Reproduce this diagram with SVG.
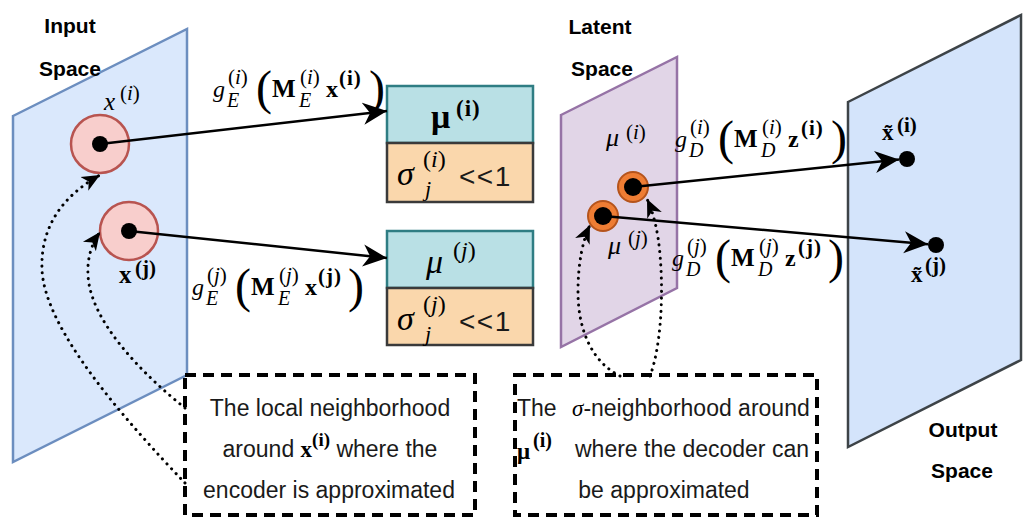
<svg xmlns="http://www.w3.org/2000/svg" width="1034" height="532" viewBox="0 0 1034 532">
<style>
.t{font-family:"Liberation Sans",Arial,sans-serif;fill:#1a1a1a}
.h{font-family:"Liberation Sans",Arial,sans-serif;font-weight:bold;font-size:21px;text-anchor:middle;fill:#000}
.m{font-family:"Liberation Serif","Times New Roman",serif;fill:#000}
.it{font-style:italic}
.b{font-weight:bold}
.dot{fill:#000}
.conn{stroke:#000;stroke-width:2.5;fill:none}
.dotted{stroke:#000;stroke-width:3;fill:none;stroke-dasharray:0.1 6.5;stroke-linecap:round}
.note{fill:#fff;stroke:#000;stroke-width:4;stroke-dasharray:11 7}
.mu{fill:#b9e0e5;stroke:#2f7d83;stroke-width:2.5}
.sg{fill:#fad7ac;stroke:#3a3a3a;stroke-width:2.5}
.pt{fill:#f8cecc;stroke:#b85450;stroke-width:2.5}
.lp{fill:#ee7d34;stroke:#b5541c;stroke-width:2}
.sp{font-size:21px}
.sb{font-size:20px;font-style:italic}
.pr{font-size:48px;font-style:normal;font-weight:normal}
</style>
<defs>
<marker id="arr" viewBox="0 0 26 24" markerWidth="26" markerHeight="24" refX="24" refY="12" orient="auto" markerUnits="userSpaceOnUse">
<path d="M0,1 L24,12 L0,23 L7,12 Z" fill="#000"/>
</marker>
<marker id="arrs" viewBox="0 0 20 18" markerWidth="20" markerHeight="18" refX="18" refY="9" orient="auto" markerUnits="userSpaceOnUse">
<path d="M0,1 L18,9 L0,17 L5,9 Z" fill="#000"/>
</marker>
</defs>

<g id="input-space">
<polygon points="13,116 187,29 187,375 13,462" fill="#dae8fc" stroke="#6c8ebf" stroke-width="2.5"/>
<text class="h" x="70" y="33">Input</text>
<text class="h" x="70" y="76">Space</text>
</g>
<g id="latent-space">
<polygon points="561,115 677,57 677,288 561,347" fill="#e1d5e7" stroke="#9673a6" stroke-width="2.5"/>
<text class="h" x="600" y="34">Latent</text>
<text class="h" x="602" y="76">Space</text>
</g>
<g id="output-space">
<polygon points="848,102 1021,15 1021,360 848,447" fill="#d4e4fb" stroke="#3d4347" stroke-width="2.5"/>
<text class="h" x="963" y="437">Output</text>
<text class="h" x="962" y="478">Space</text>
</g>

<g id="point-xi">
<circle class="pt" cx="100" cy="144" r="29"/>
<circle class="dot" cx="100" cy="144" r="8"/>
<text class="m" font-size="25"><tspan class="it" x="104" y="110">x</tspan><tspan class="sp" x="120" y="100">(<tspan class="it">i</tspan>)</tspan></text>
</g>
<g id="point-xj">
<circle class="pt" cx="129" cy="231" r="29"/>
<circle class="dot" cx="129" cy="231" r="8"/>
<text class="m b" font-size="25"><tspan x="119" y="283">x</tspan><tspan class="sp" x="135" y="275">(j)</tspan></text>
</g>

<g id="box-i">
<rect class="mu" x="387" y="86" width="146" height="57"/>
<rect class="sg" x="387" y="143" width="146" height="59"/>
<text class="m b" font-size="34"><tspan x="431" y="128">μ</tspan><tspan x="456" y="116" font-size="23" letter-spacing="1">(i)</tspan></text>
<text class="m" font-size="34"><tspan class="it" x="397" y="185">σ</tspan><tspan x="423" y="167" font-size="24">(<tspan class="it">i</tspan>)</tspan><tspan class="it" x="425" y="196" font-size="22">j</tspan></text>
<text class="t" x="459" y="186" font-size="28" letter-spacing="1.5" fill="#000">&lt;&lt;1</text>
</g>
<g id="box-j">
<rect class="mu" x="387" y="231" width="146" height="57"/>
<rect class="sg" x="387" y="288" width="146" height="57"/>
<text class="m" font-size="34"><tspan class="it" x="426" y="273">μ</tspan><tspan x="453" y="258" font-size="24">(<tspan class="it">j</tspan>)</tspan></text>
<text class="m" font-size="34"><tspan class="it" x="397" y="330">σ</tspan><tspan x="423" y="312" font-size="24">(<tspan class="it">j</tspan>)</tspan><tspan class="it" x="425" y="341" font-size="22">j</tspan></text>
<text class="t" x="459" y="331" font-size="28" letter-spacing="1.5" fill="#000">&lt;&lt;1</text>
</g>

<g id="latent-mu-i">
<circle class="lp" cx="633" cy="187" r="15"/>
<circle class="dot" cx="633" cy="187" r="9"/>
<text class="m" font-size="26"><tspan class="it" x="606" y="146">μ</tspan><tspan class="sp" x="626" y="139">(<tspan class="it">i</tspan>)</tspan></text>
</g>
<g id="latent-mu-j">
<circle class="lp" cx="603" cy="216" r="15"/>
<circle class="dot" cx="603" cy="216" r="9"/>
<text class="m" font-size="26"><tspan class="it" x="608" y="254">μ</tspan><tspan class="sp" x="628" y="245">(<tspan class="it">j</tspan>)</tspan></text>
</g>

<g id="output-xi">
<circle class="dot" cx="907" cy="159" r="8"/>
<text class="m b" font-size="23"><tspan x="882" y="140">x̃</tspan><tspan class="sp" x="897" y="132">(i)</tspan></text>
</g>
<g id="output-xj">
<circle class="dot" cx="936" cy="245" r="8"/>
<text class="m b" font-size="23"><tspan x="911" y="282">x̃</tspan><tspan class="sp" x="925" y="272">(j)</tspan></text>
</g>

<g id="note-encoder">
<rect class="note" x="185" y="375" width="290" height="140"/>
<text class="t" x="330" y="416" font-size="23" text-anchor="middle">The local neighborhood</text>
<text class="t" x="330" y="457" font-size="23" text-anchor="middle">around <tspan class="m b" fill="#000">x</tspan><tspan class="m b" fill="#000" font-size="19" dy="-11">(i)</tspan><tspan dy="11"> where the</tspan></text>
<text class="t" x="329" y="498" font-size="23" text-anchor="middle">encoder is approximated</text>
</g>
<g id="note-decoder">
<rect class="note" x="515" y="375" width="302" height="140"/>
<text class="t" x="517" y="416" font-size="23">The <tspan class="m it" fill="#000" dx="9">σ</tspan>-neighborhood around</text>
<text class="t" font-size="23"><tspan class="m b" fill="#000" x="517" y="459">μ</tspan><tspan class="m b" fill="#000" font-size="20" x="533" y="447">(i)</tspan><tspan x="575" y="457">where the decoder can</tspan></text>
<text class="t" x="664" y="498" font-size="23" text-anchor="middle">be approximated</text>
</g>

<g id="connectors">
<path class="conn" d="M100,144 L387,111" marker-end="url(#arr)"/>
<path class="conn" d="M129,231 L387,258" marker-end="url(#arr)"/>
<path class="conn" d="M633,187 L899,159.5" marker-end="url(#arr)"/>
<path class="conn" d="M603,216 L928,244.3" marker-end="url(#arr)"/>
<path class="dotted" d="M185,483 C125,420 45,330 42,270 C40,220 70,192 100,175" marker-end="url(#arrs)"/>
<path class="dotted" d="M185,408 C140,372 90,320 88,275 C87,258 92,243 100,232" marker-end="url(#arrs)"/>
<path class="dotted" d="M620,376 C592,362 578,330 578,292 C578,262 583,240 590,225" marker-end="url(#arrs)"/>
<path class="dotted" d="M650,376 C660,350 664,300 660,255 C658,230 653,212 647,199" marker-end="url(#arrs)"/>

<text id="label-enc-i" class="m" font-size="24"><tspan class="it" x="213" y="97">g</tspan><tspan class="sp" x="228" y="84">(<tspan class="it">i</tspan>)</tspan><tspan class="sb" x="227" y="107">E</tspan><tspan class="pr" x="256" y="104">(</tspan><tspan class="b" font-size="25" x="272" y="97">M</tspan><tspan class="sp" x="300" y="84">(<tspan class="it">i</tspan>)</tspan><tspan class="sb" x="299" y="107">E</tspan><tspan class="b" x="326" y="97">x</tspan><tspan class="b sp" x="339" y="85" letter-spacing="1">(i)</tspan><tspan class="pr" x="369" y="104">)</tspan></text>
<text id="label-enc-j" class="m" font-size="24"><tspan class="it" x="192" y="295">g</tspan><tspan class="sp" x="207" y="282">(<tspan class="it">j</tspan>)</tspan><tspan class="sb" x="206" y="305">E</tspan><tspan class="pr" x="235" y="302">(</tspan><tspan class="b" font-size="25" x="251" y="295">M</tspan><tspan class="sp" x="279" y="282">(<tspan class="it">j</tspan>)</tspan><tspan class="sb" x="278" y="305">E</tspan><tspan class="b" x="305" y="295">x</tspan><tspan class="b sp" x="318" y="283" letter-spacing="1">(j)</tspan><tspan class="pr" x="348" y="302">)</tspan></text>
<text id="label-dec-i" class="m" font-size="24"><tspan class="it" x="675" y="147">g</tspan><tspan class="sp" x="690" y="134">(<tspan class="it">i</tspan>)</tspan><tspan class="sb" x="689" y="157">D</tspan><tspan class="pr" x="718" y="154">(</tspan><tspan class="b" font-size="25" x="734" y="147">M</tspan><tspan class="sp" x="762" y="134">(<tspan class="it">i</tspan>)</tspan><tspan class="sb" x="761" y="157">D</tspan><tspan class="b" x="788" y="147">z</tspan><tspan class="b sp" x="801" y="135" letter-spacing="1">(i)</tspan><tspan class="pr" x="831" y="154">)</tspan></text>
<text id="label-dec-j" class="m" font-size="24"><tspan class="it" x="672" y="266">g</tspan><tspan class="sp" x="687" y="253">(<tspan class="it">j</tspan>)</tspan><tspan class="sb" x="686" y="276">D</tspan><tspan class="pr" x="715" y="273">(</tspan><tspan class="b" font-size="25" x="731" y="266">M</tspan><tspan class="sp" x="759" y="253">(<tspan class="it">j</tspan>)</tspan><tspan class="sb" x="758" y="276">D</tspan><tspan class="b" x="785" y="266">z</tspan><tspan class="b sp" x="798" y="254" letter-spacing="1">(j)</tspan><tspan class="pr" x="828" y="273">)</tspan></text>
</g>
</svg>
